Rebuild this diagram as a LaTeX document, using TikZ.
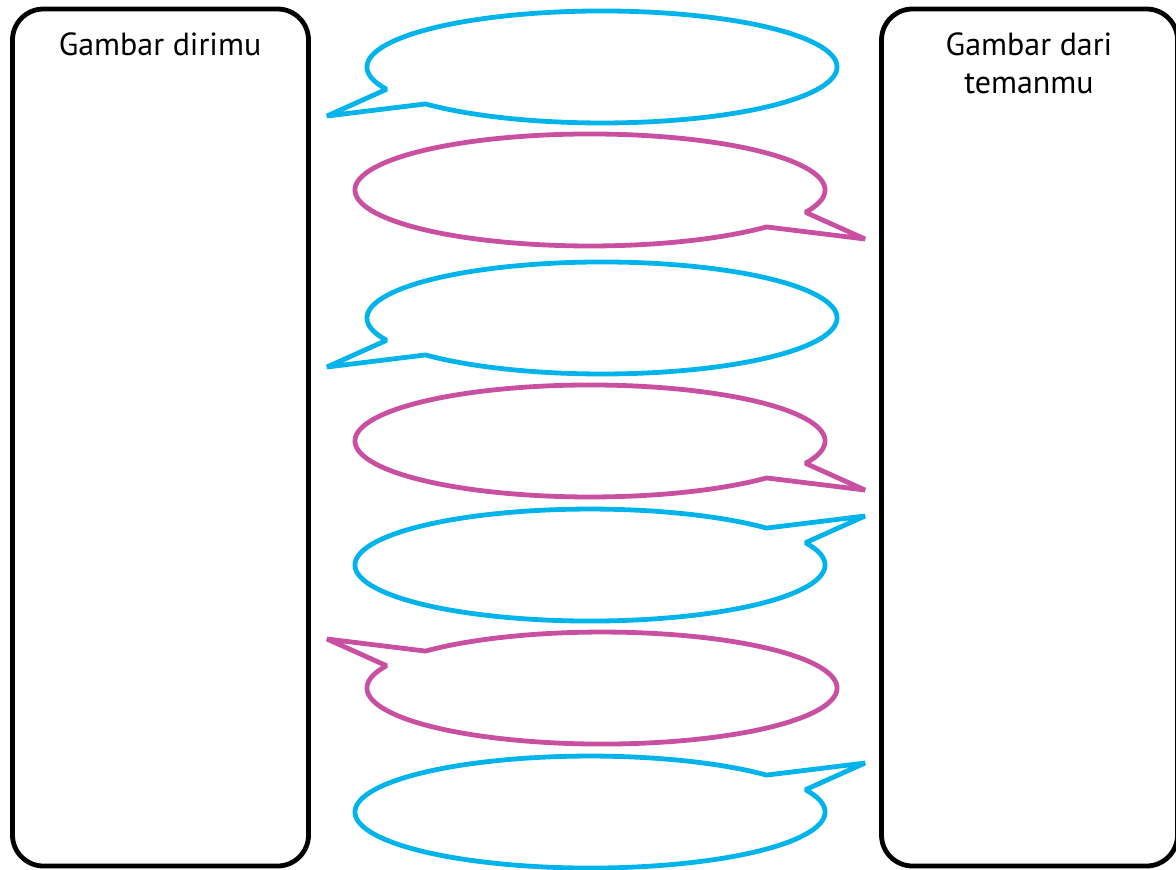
\documentclass[tikz,border=0pt]{standalone}
\usepackage{fontspec}
\setmainfont{PT Sans}
\definecolor{bubblue}{RGB}{0,180,235}
\definecolor{bubpink}{RGB}{201,79,160}
\begin{document}
\begin{tikzpicture}[x=0.5pt,y=-0.5pt,
  frame/.style={draw=black, line width=2.4pt, rounded corners=15.5pt, minimum width=148pt, minimum height=428.5pt, inner sep=0pt},
  label/.style={font=\fontsize{16}{19}\selectfont, anchor=base, inner sep=0pt},
  bubble/.pic={
    \draw[line width=2.4pt, line join=bevel, pic actions]
      (-215.5,22.3) arc[start angle=156.5, end angle=498.7, x radius=235, y radius=56]
      -- (-275,49) -- cycle;
  }]
\useasboundingbox (0,0) rectangle (1176,869);
% frames
\node[frame] (leftbox) at (160.5,437.5) {};
\node[frame] (rightbox) at (1029.5,437.5) {};
\node[label] (lefttitle) at (160,55) {Gambar dirimu};
\node[label] (righttitle1) at (1029,55) {Gambar dari};
\node[label] (righttitle2) at (1029,93) {temanmu};
% speech bubbles
\pic[draw=bubblue] (b1) at (602,67) {bubble};
\pic[draw=bubpink, xscale=-1] (p1) at (590,190) {bubble};
\pic[draw=bubblue] (b2) at (602,318) {bubble};
\pic[draw=bubpink, xscale=-1] (p2) at (590,441) {bubble};
\pic[draw=bubblue, xscale=-1, yscale=-1] (b3) at (590,565) {bubble};
\pic[draw=bubpink, yscale=-1] (p3) at (602,688) {bubble};
\pic[draw=bubblue, xscale=-1, yscale=-1] (b4) at (590,812) {bubble};
\end{tikzpicture}
\end{document}
